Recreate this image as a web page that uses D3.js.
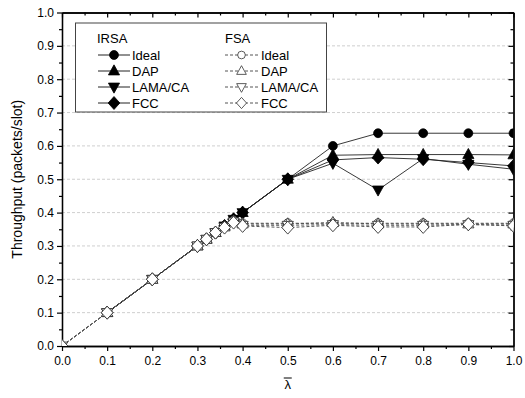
<!DOCTYPE html>
<html><head><meta charset="utf-8">
<script src="https://cdn.jsdelivr.net/npm/d3@7"></script>
<style>body{margin:0;background:#fff} svg{display:block} text{font-family:"Liberation Sans",Arial,sans-serif;fill:#000}</style>
</head><body><svg width="525" height="398"></svg>
<script>
// ---- data ----
const xIRSA = [0.1,0.2,0.3,0.32,0.34,0.36,0.38,0.4,0.5,0.6,0.7,0.8,0.9,1.0];
const irsaIdeal = [0.1,0.2,0.3,0.32,0.34,0.36,0.38,0.4,0.5,0.600,0.638,0.638,0.638,0.638];
const irsaDAP   = [0.1,0.2,0.3,0.32,0.34,0.36,0.38,0.4,0.5,0.572,0.574,0.574,0.574,0.573];
const irsaLAMA  = [0.1,0.2,0.3,0.32,0.34,0.36,0.38,0.4,0.5,0.548,0.468,0.562,0.545,0.530];
const irsaFCC   = [0.1,0.2,0.3,0.32,0.34,0.36,0.38,0.4,0.5,0.558,0.565,0.560,0.550,0.540];
const xFSA = [0,0.1,0.2,0.3,0.32,0.34,0.36,0.38,0.4,0.5,0.6,0.7,0.8,0.9,1.0];
const fsaIdeal = [0,0.1,0.2,0.3,0.32,0.34,0.358,0.376,0.368,0.368,0.368,0.368,0.368,0.368,0.368];
const fsaDAP   = [0,0.1,0.2,0.3,0.32,0.34,0.357,0.374,0.366,0.366,0.370,0.366,0.366,0.366,0.366];
const fsaLAMA  = [0,0.1,0.2,0.3,0.32,0.34,0.356,0.372,0.362,0.362,0.364,0.362,0.362,0.364,0.362];
const fsaFCC   = [0,0.1,0.2,0.3,0.32,0.34,0.355,0.370,0.360,0.355,0.362,0.357,0.357,0.365,0.360];
const seriesNames = ["Ideal","DAP","LAMA/CA","FCC"];
const groupNames = ["IRSA","FSA"];
const xTicks = [0,0.1,0.2,0.3,0.4,0.5,0.6,0.7,0.8,0.9,1.0];
const yTicks = [0,0.1,0.2,0.3,0.4,0.5,0.6,0.7,0.8,0.9,1.0];
const minorTicks = [0.05,0.15,0.25,0.35,0.45,0.55,0.65,0.75,0.85,0.95];
const xLabel = "λ";
const yLabel = "Throughput (packets/slot)";

// ---- symbols ----
const circleT = {draw(c,s){const r=Math.sqrt(s/Math.PI);c.moveTo(r,0);c.arc(0,0,r,0,2*Math.PI);}};
const triUp = {draw(c,s){const r=Math.sqrt(s)/1.6;c.moveTo(0,-r*1.1);c.lineTo(r,r*0.7);c.lineTo(-r,r*0.7);c.closePath();}};
const triDown = {draw(c,s){const r=Math.sqrt(s)/1.6;c.moveTo(0,r*1.1);c.lineTo(r,-r*0.7);c.lineTo(-r,-r*0.7);c.closePath();}};
const diamond = {draw(c,s){const r=Math.sqrt(s)/1.45;c.moveTo(0,-r*1.05);c.lineTo(r*0.95,0);c.lineTo(0,r*1.05);c.lineTo(-r*0.95,0);c.closePath();}};
const symTypes = [circleT, triUp, triDown, diamond];
const symSizes = [62, 80, 80, 80];

const svg = d3.select("svg");
const x = d3.scaleLinear([0,1],[62,513.5]);
const y = d3.scaleLinear([0,1],[346,12.5]);

// grid
svg.append("g").selectAll("line").data(yTicks.slice(1,-1)).join("line")
  .attr("x1",x(0)).attr("x2",x(1)).attr("y1",d=>y(d)).attr("y2",d=>y(d))
  .attr("stroke","#cfcfcf").attr("stroke-dasharray","3,2").attr("stroke-width",1);

// axes
function styleAxis(g){g.select(".domain").attr("stroke","#000").attr("stroke-width",1.3);g.selectAll(".tick line").attr("stroke","#000").attr("stroke-width",1.2);g.selectAll("text").attr("font-size",12).attr("font-family","Liberation Sans, Arial, sans-serif");}
svg.append("g").attr("transform",`translate(${x(0)},0)`).call(d3.axisLeft(y).tickValues(yTicks).tickFormat(d3.format(".1f")).tickSize(5).tickSizeOuter(0).tickPadding(3)).call(styleAxis);
svg.append("g").attr("transform",`translate(${x(0)},0)`).call(d3.axisLeft(y).tickValues(minorTicks).tickFormat("").tickSize(3).tickSizeOuter(0)).call(styleAxis);
svg.append("g").attr("transform",`translate(0,${y(0)})`).call(d3.axisBottom(x).tickValues(xTicks).tickFormat(d3.format(".1f")).tickSize(5).tickSizeOuter(0).tickPadding(5)).call(styleAxis);
svg.append("g").attr("transform",`translate(0,${y(0)})`).call(d3.axisBottom(x).tickValues(minorTicks).tickFormat("").tickSize(3).tickSizeOuter(0)).call(styleAxis);
svg.append("g").attr("transform",`translate(0,${y(1)})`).call(d3.axisTop(x).tickValues(xTicks).tickFormat("").tickSize(-5).tickSizeOuter(0)).call(styleAxis);
svg.append("g").attr("transform",`translate(0,${y(1)})`).call(d3.axisTop(x).tickValues(minorTicks).tickFormat("").tickSize(-3).tickSizeOuter(0)).call(styleAxis);
svg.append("g").attr("transform",`translate(${x(1)},0)`).call(d3.axisRight(y).tickValues(yTicks).tickFormat("").tickSize(-5).tickSizeOuter(0)).call(styleAxis);
svg.append("g").attr("transform",`translate(${x(1)},0)`).call(d3.axisRight(y).tickValues(minorTicks).tickFormat("").tickSize(-3).tickSizeOuter(0)).call(styleAxis);

// labels
svg.append("text").attr("transform",`translate(22,${(y(0)+y(1))/2}) rotate(-90)`).attr("text-anchor","middle").attr("font-size",14).text(yLabel);
const lx = x(0.5), ly = 389;
svg.append("text").attr("x",lx).attr("y",ly).attr("text-anchor","middle").attr("font-size",13).text(xLabel);
svg.append("line").attr("x1",lx-4).attr("x2",lx+4).attr("y1",ly-11).attr("y2",ly-11).attr("stroke","#000").attr("stroke-width",1);

// clip
svg.append("clipPath").attr("id","clip").append("rect").attr("x",x(0)).attr("y",y(1)).attr("width",x(1)-x(0)).attr("height",y(0)-y(1));
const plot = svg.append("g").attr("clip-path","url(#clip)");

const irsa = [irsaIdeal, irsaDAP, irsaLAMA, irsaFCC];
const fsa = [fsaIdeal, fsaDAP, fsaLAMA, fsaFCC];
const line = d3.line().x(d=>x(d[0])).y(d=>y(d[1]));

// IRSA
irsa.forEach((vals,i)=>{
  const pts = xIRSA.map((xv,j)=>[xv,vals[j]]);
  plot.append("path").attr("d",line(pts)).attr("fill","none").attr("stroke","#222").attr("stroke-width",0.9);
});
irsa.forEach((vals,i)=>{
  const pts = xIRSA.map((xv,j)=>[xv,vals[j]]);
  plot.append("g").selectAll("path").data(pts).join("path")
    .attr("transform",d=>`translate(${x(d[0])},${y(d[1])})`)
    .attr("d",d3.symbol(symTypes[i],symSizes[i])).attr("fill","#000").attr("stroke","#000").attr("stroke-width",0.8);
});
// FSA
fsa.forEach((vals,i)=>{
  const pts = xFSA.map((xv,j)=>[xv,vals[j]]);
  plot.append("path").attr("d",line(pts)).attr("fill","none").attr("stroke","#555").attr("stroke-width",1).attr("stroke-dasharray","3,2");
});
fsa.forEach((vals,i)=>{
  const pts = xFSA.map((xv,j)=>[xv,vals[j]]);
  plot.append("g").selectAll("path").data(pts).join("path")
    .attr("transform",d=>`translate(${x(d[0])},${y(d[1])})`)
    .attr("d",d3.symbol(symTypes[i],symSizes[i])).attr("fill","#fff").attr("stroke","#333").attr("stroke-width",0.9);
});

// legend
const leg = svg.append("g");
leg.append("rect").attr("x",75.5).attr("y",23).attr("width",251).attr("height",89).attr("fill","#fff").attr("stroke","#444").attr("stroke-width",1);
const cols = [{lx1:98,lx2:130,tx:132,fill:"#000",dash:null,stroke:"#222"},{lx1:225,lx2:258,tx:261,fill:"#fff",dash:"3,2",stroke:"#555"}];
groupNames.forEach((g,k)=>{
  leg.append("text").attr("x",k===0?97:225).attr("y",43).attr("font-size",13).text(g);
  seriesNames.forEach((n,i)=>{
    const cy = 55 + i*16, c = cols[k];
    leg.append("line").attr("x1",c.lx1).attr("x2",c.lx2).attr("y1",cy).attr("y2",cy).attr("stroke",c.stroke).attr("stroke-width",1).attr("stroke-dasharray",c.dash);
    leg.append("path").attr("transform",`translate(${(c.lx1+c.lx2)/2},${cy})`).attr("d",d3.symbol(symTypes[i],symSizes[i]*(k===0?1:0.75)))
      .attr("fill",c.fill).attr("stroke",k===0?"#000":"#333").attr("stroke-width",0.8);
    leg.append("text").attr("x",c.tx).attr("y",cy+4.5).attr("font-size",13).text(n);
  });
});
</script></body></html>
